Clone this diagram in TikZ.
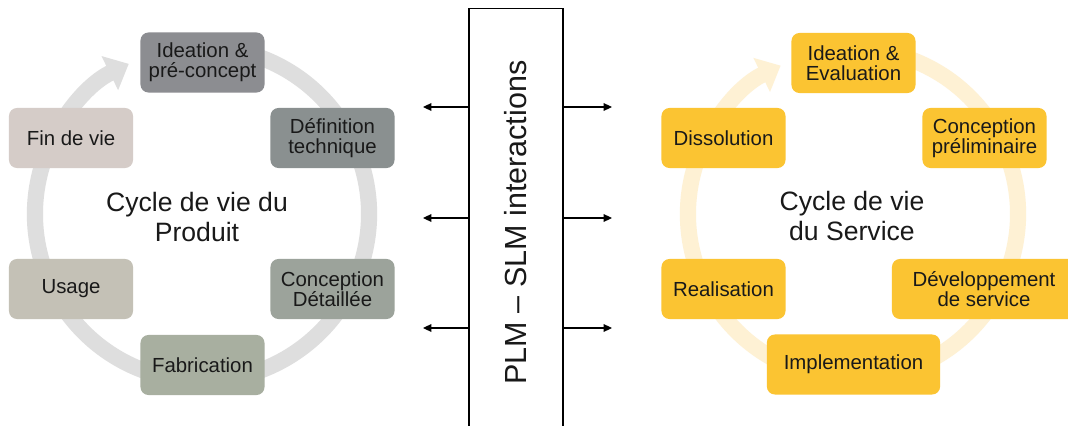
\documentclass[tikz,border=0pt]{standalone}
\usepackage{fontspec}
\setmainfont{Liberation Sans}
\usetikzlibrary{arrows.meta}
\definecolor{greyA}{RGB}{140,141,145}
\definecolor{greyB}{RGB}{138,144,144}
\definecolor{greyC}{RGB}{156,163,155}
\definecolor{greyD}{RGB}{168,175,160}
\definecolor{greyE}{RGB}{196,193,182}
\definecolor{greyF}{RGB}{213,204,200}
\definecolor{ringgrey}{RGB}{222,222,222}
\definecolor{amber}{RGB}{251,196,50}
\definecolor{ringamber}{RGB}{254,241,212}
\definecolor{ink}{RGB}{25,25,25}
\begin{document}
\begin{tikzpicture}[x=0.025cm,y=-0.025cm,
  stage/.style={rounded corners=0.2cm,minimum width=3.1cm,minimum height=1.5cm,inner sep=1pt,align=center,text=ink,font=\fontsize{14.5}{14.2}\selectfont},
  ring/.style={line width=11.5pt,-{Triangle[length=15pt,width=26pt]}},
  cycletxt/.style={align=center,text=ink,font=\fontsize{18.9}{21.8}\selectfont},
  link/.style={line width=0.8pt,-{Triangle[length=6pt,width=5.5pt]}}]
\useasboundingbox (0,0) rectangle (1068,426);
\fill[white] (0,0) rectangle (1068,426);
\draw[ring,ringgrey] ([shift={(202,214)}]75:4.175cm) arc[start angle=75,end angle=-244,radius=4.175cm];
\draw[ring,ringamber] ([shift={(853,214)}]75:4.125cm) arc[start angle=75,end angle=-244,radius=4.125cm];
\node[stage,fill=greyA] (ideaP) at (202.5,62.5) {Ideation \&\\pré-concept};
\node[stage,fill=greyB] (defP) at (332.5,138) {Définition\\technique};
\node[stage,fill=greyC] (concP) at (332.5,289) {Conception\\Détaillée};
\node[stage,fill=greyD] (fabP) at (202.5,365) {Fabrication};
\node[stage,fill=greyE] (usageP) at (71,289) {Usage};
\node[stage,fill=greyF] (finP) at (71,138) {Fin de vie};
\node[cycletxt] (prodtxt) at (197,217) {Cycle de vie du\\Produit};
\node[stage,fill=amber] (ideaS) at (853.5,63) {Ideation \&\\Evaluation};
\node[stage,fill=amber] (concS) at (984.5,138) {Conception\\préliminaire};
\node[stage,fill=amber,minimum width=4.6cm] (devS) at (984,289) {Développement\\de service};
\node[stage,fill=amber,minimum width=4.33cm] (implS) at (853.5,364.5) {Implementation};
\node[stage,fill=amber] (realS) at (723.5,289) {Realisation};
\node[stage,fill=amber] (dissS) at (723.5,138) {Dissolution};
\node[cycletxt] (servtxt) at (852,216) {Cycle de vie\\du Service};
\node[draw,fill=white,line width=0.8pt,rotate=90,minimum width=10.7cm,minimum height=2.35cm,inner sep=0pt,font=\fontsize{21.7}{24}\selectfont,text=ink] (plm) at (516,222.5) {PLM -- SLM interactions};
\foreach \y [count=\i] in {107,218,328} {
  \coordinate (l\i) at (423,\y);
  \coordinate (r\i) at (612,\y);
  \draw[link] (plm.north |- l\i) -- (l\i);
  \draw[link] (plm.south |- r\i) -- (r\i);
}
\end{tikzpicture}
\end{document}
